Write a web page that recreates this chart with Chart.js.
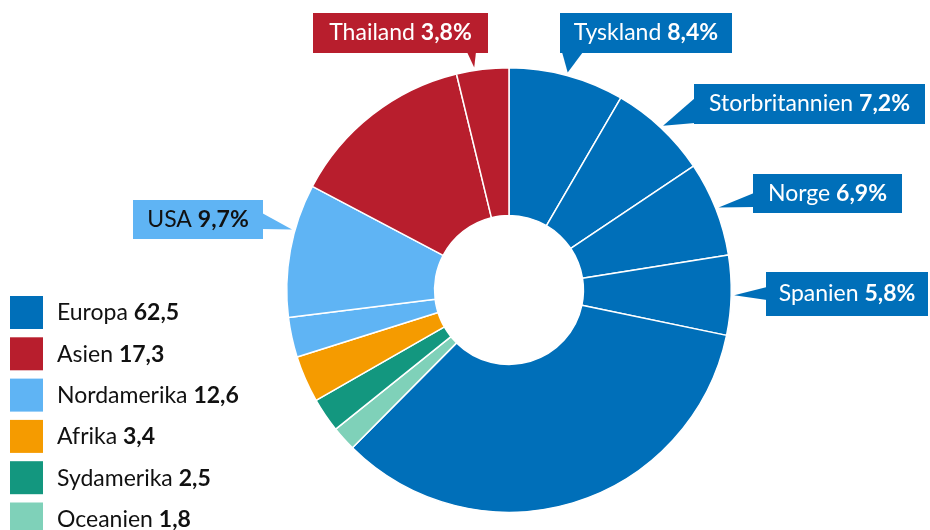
<!DOCTYPE html>
<html>
<head>
<meta charset="utf-8">
<script src="https://cdn.jsdelivr.net/npm/chart.js@4.4.0/dist/chart.umd.min.js"></script>
<style>
  html, body { margin: 0; padding: 0; background: #fff; }
  #wrap { width: 930px; height: 530px; }
</style>
</head>
<body>
<div id="wrap"><canvas id="chart"></canvas></div>
<script>
// regions (legend)
const regionNames = ['Europa', 'Asien', 'Nordamerika', 'Afrika', 'Sydamerika', 'Oceanien'];
const regionValues = [62.5, 17.3, 12.6, 3.4, 2.5, 1.8];
const regionColors = ['#006fb9', '#b81e2d', '#5fb4f4', '#f59b00', '#13977f', '#7fd1b9'];

// slices, clockwise from 12 o'clock
const sliceNames = ['Tyskland', 'Storbritannien', 'Norge', 'Spanien', 'Övriga Europa',
  'Oceanien', 'Sydamerika', 'Afrika', 'Övriga Nordamerika', 'USA', 'Övriga Asien', 'Thailand'];
const sliceValues = [8.4, 7.2, 6.9, 5.8, 34.2, 1.8, 2.5, 3.4, 2.9, 9.7, 13.5, 3.8];
const sliceRegion = [0, 0, 0, 0, 0, 5, 4, 3, 2, 2, 1, 1];

const fontFamily = 'Lato, "Open Sans", sans-serif';
const fontSize = 23;
const fmt = (v) => v.toFixed(1).replace('.', ',');

// callout boxes: slice index, box, which edge the pointer leaves from, pointer base, where on the arc it points
const callouts = [
  { slice: 11, box: [313, 13, 175, 40], edge: 'bottom', base: [154, 163], at: 0.35, text: '#fff' },
  { slice: 0, box: [560, 13, 172, 40], edge: 'bottom', base: [2, 23], at: 0.5, text: '#fff' },
  { slice: 1, box: [694, 84, 231, 40], edge: 'left', base: [14, 39], at: 0.5, text: '#fff' },
  { slice: 2, box: [753, 174, 149, 39], edge: 'left', base: [19, 33], at: 0.5, text: '#fff' },
  { slice: 3, box: [766, 272, 162, 44], edge: 'left', base: [15, 28], at: 0.5, text: '#fff' },
  { slice: 9, box: [133, 200, 130, 39], edge: 'right', base: [13, 29], at: 0.65, text: '#111' },
];

function drawRichText(ctx, name, value, x, cy, color, align) {
  ctx.save();
  ctx.textBaseline = 'middle';
  ctx.textAlign = 'left';
  ctx.fillStyle = color;
  ctx.font = `${fontSize}px ${fontFamily}`;
  const w1 = ctx.measureText(name + ' ').width;
  ctx.font = `bold ${fontSize}px ${fontFamily}`;
  const w2 = ctx.measureText(value).width;
  if (align === 'center') x -= (w1 + w2) / 2;
  ctx.font = `${fontSize}px ${fontFamily}`;
  ctx.fillText(name + ' ', x, cy);
  ctx.font = `bold ${fontSize}px ${fontFamily}`;
  ctx.fillText(value, x + w1, cy);
  ctx.restore();
}

const calloutPlugin = {
  id: 'callouts',
  afterDatasetsDraw(chart) {
    const ctx = chart.ctx;
    const arcs = chart.getDatasetMeta(0).data;
    callouts.forEach((c) => {
      const p = arcs[c.slice].getProps(['x', 'y', 'startAngle', 'endAngle', 'outerRadius']);
      const a = p.startAngle + (p.endAngle - p.startAngle) * c.at;
      const r = p.outerRadius + 3;
      const tx = p.x + Math.cos(a) * r;
      const ty = p.y + Math.sin(a) * r;
      const [bx, by, bw, bh] = c.box;
      let b1, b2;
      if (c.edge === 'bottom') { b1 = [bx + c.base[0], by + bh - 1]; b2 = [bx + c.base[1], by + bh - 1]; }
      if (c.edge === 'left') { b1 = [bx + 1, by + c.base[0]]; b2 = [bx + 1, by + c.base[1]]; }
      if (c.edge === 'right') { b1 = [bx + bw - 1, by + c.base[0]]; b2 = [bx + bw - 1, by + c.base[1]]; }
      ctx.save();
      ctx.fillStyle = regionColors[sliceRegion[c.slice]];
      ctx.fillRect(bx, by, bw, bh);
      ctx.beginPath();
      ctx.moveTo(b1[0], b1[1]);
      ctx.lineTo(tx, ty);
      ctx.lineTo(b2[0], b2[1]);
      ctx.closePath();
      ctx.fill();
      ctx.restore();
      drawRichText(ctx, sliceNames[c.slice], fmt(sliceValues[c.slice]) + '%', bx + bw / 2, by + bh / 2, c.text, 'center');
    });

    // legend
    regionNames.forEach((name, i) => {
      const y = 296 + i * 41.3;
      ctx.save();
      ctx.fillStyle = regionColors[i];
      ctx.fillRect(10, y, 33, 33);
      ctx.restore();
      drawRichText(ctx, name, fmt(regionValues[i]), 57, y + 17, '#111', 'left');
    });
  },
};

new Chart(document.getElementById('chart'), {
  type: 'doughnut',
  data: {
    labels: sliceNames,
    datasets: [{
      data: sliceValues,
      backgroundColor: sliceRegion.map((r) => regionColors[r]),
      borderColor: '#fff',
      borderWidth: 1.5,
      hoverOffset: 0,
    }],
  },
  options: {
    responsive: true,
    maintainAspectRatio: false,
    animation: false,
    cutout: '33.5%',
    layout: {
      padding: { left: 286, right: 198, top: 67, bottom: 17 },
    },
    plugins: {
      legend: { display: false },
      tooltip: { enabled: false },
    },
  },
  plugins: [calloutPlugin],
});
</script>
</body>
</html>
